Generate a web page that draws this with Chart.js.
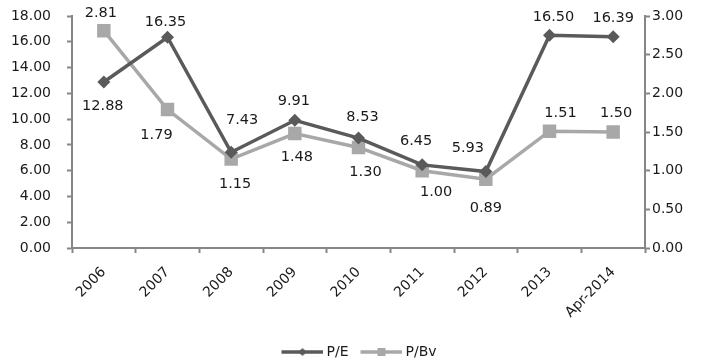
<!DOCTYPE html>
<html>
<head>
<meta charset="utf-8">
<script src="https://cdn.jsdelivr.net/npm/chart.js@4.4.1/dist/chart.umd.min.js"></script>
<style>
  html, body { margin: 0; padding: 0; background: #ffffff; }
  #wrap { width: 712px; height: 364px; position: relative; }
</style>
</head>
<body>
<div id="wrap"><canvas id="chart"></canvas></div>
<script>
// Valuation multiples by year
const categories = ['2006', '2007', '2008', '2009', '2010', '2011', '2012', '2013', 'Apr-2014'];
const peValues   = [12.88, 16.35, 7.43, 9.91, 8.53, 6.45, 5.93, 16.50, 16.39];
const pbvValues  = [2.81, 1.79, 1.15, 1.48, 1.30, 1.00, 0.89, 1.51, 1.50];
const leftTicks  = [0, 2, 4, 6, 8, 10, 12, 14, 16, 18];
const rightTicks = [0, 0.5, 1, 1.5, 2, 2.5, 3];

// Value-label nudges [dx, dy] in pixels from each point
const peLabelOffsets  = [[-1, 24], [-2, -15], [11, -32], [-1, -19], [4, -21], [-6, -24], [-18, -23], [4, -18], [0, -19]];
const pbvLabelOffsets = [[-3, -17], [-11, 26], [4, 25], [2, 24], [7, 25], [14, 22], [0, 29], [11, -18], [3, -19]];

const FONT = "'DejaVu Sans', Verdana, sans-serif";
const PE_COLOR = '#5a5a5a';
const PBV_COLOR = '#a8a8a8';
const AXIS_COLOR = '#868686';
const TEXT_COLOR = '#1a1a1a';

// Legend swatch: a short line with the series marker in its middle
function legendIcon(color, shape) {
  const c = document.createElement('canvas');
  c.width = 52; c.height = 14;
  const g = c.getContext('2d');
  g.strokeStyle = color; g.lineWidth = 3.5;
  g.beginPath(); g.moveTo(10, 7); g.lineTo(52, 7); g.stroke();
  g.fillStyle = color;
  g.beginPath();
  if (shape === 'diamond') {
    g.moveTo(31, 3); g.lineTo(35, 7); g.lineTo(31, 11); g.lineTo(27, 7);
  } else {
    g.rect(27, 3, 8, 8);
  }
  g.closePath(); g.fill();
  return c;
}

const valueLabels = {
  id: 'valueLabels',
  afterDatasetsDraw(chart) {
    const ctx = chart.ctx;
    ctx.save();
    ctx.font = '14.5px ' + FONT;
    ctx.fillStyle = TEXT_COLOR;
    ctx.textAlign = 'center';
    ctx.textBaseline = 'middle';
    chart.data.datasets.forEach((ds, di) => {
      const meta = chart.getDatasetMeta(di);
      meta.data.forEach((pt, i) => {
        const [dx, dy] = ds.labelOffsets[i];
        ctx.fillText(ds.data[i].toFixed(2), pt.x + dx, pt.y + dy);
      });
    });
    ctx.restore();
  }
};

const axisTicks = (padding) => ({
  color: TEXT_COLOR,
  font: { family: FONT, size: 14 },
  padding: padding,
  callback: v => Number(v).toFixed(2)
});

const axisGrid = {
  drawOnChartArea: false,
  tickLength: 5,
  tickColor: AXIS_COLOR,
  tickWidth: 2
};

// Fixed axis widths; the outer tick labels may overhang the plot edges
const fixWidth = (w) => (scale) => {
  scale.width = w;
  scale.paddingTop = 0;
  scale.paddingBottom = 0;
};

new Chart(document.getElementById('chart'), {
  type: 'line',
  data: {
    labels: categories,
    datasets: [
      {
        label: 'P/E',
        data: peValues,
        yAxisID: 'y',
        borderColor: PE_COLOR,
        backgroundColor: PE_COLOR,
        borderWidth: 3.5,
        pointStyle: 'rectRot',
        pointRadius: 6.5,
        pointHoverRadius: 6.5,
        pointBorderWidth: 0,
        tension: 0,
        labelOffsets: peLabelOffsets,
        legendIcon: legendIcon(PE_COLOR, 'diamond')
      },
      {
        label: 'P/Bv',
        data: pbvValues,
        yAxisID: 'y1',
        borderColor: PBV_COLOR,
        backgroundColor: PBV_COLOR,
        borderWidth: 3.5,
        pointStyle: 'rect',
        pointRadius: 9.5,
        pointHoverRadius: 9.5,
        pointBorderWidth: 0,
        tension: 0,
        labelOffsets: pbvLabelOffsets,
        legendIcon: legendIcon(PBV_COLOR, 'square')
      }
    ]
  },
  options: {
    responsive: true,
    maintainAspectRatio: false,
    animation: false,
    layout: { autoPadding: false, padding: { top: 16, left: 0, right: 0, bottom: -5 } },
    plugins: {
      tooltip: { enabled: false },
      legend: {
        position: 'bottom',
        labels: {
          usePointStyle: true,
          pointStyleWidth: 44,
          padding: 6,
          color: TEXT_COLOR,
          font: { family: FONT, size: 14 },
          generateLabels(chart) {
            return chart.data.datasets.map((ds, i) => ({
              text: ds.label,
              pointStyle: ds.legendIcon,
              fillStyle: ds.borderColor,
              strokeStyle: ds.borderColor,
              lineWidth: 0,
              hidden: false,
              datasetIndex: i,
              fontColor: TEXT_COLOR
            }));
          }
        }
      }
    },
    scales: {
      x: {
        offset: true,
        grid: Object.assign({ offset: true }, axisGrid),
        border: { color: AXIS_COLOR, width: 2 },
        ticks: {
          color: TEXT_COLOR,
          font: { family: FONT, size: 14 },
          minRotation: 45,
          maxRotation: 45,
          padding: 11,
          autoSkip: false
        },
        afterFit(scale) { scale.height = 91; }
      },
      y: {
        position: 'left',
        min: 0,
        max: 18,
        afterBuildTicks(scale) { scale.ticks = leftTicks.map(v => ({ value: v })); },
        grid: axisGrid,
        border: { color: AXIS_COLOR, width: 2 },
        ticks: axisTicks(16),
        afterFit: fixWidth(72)
      },
      y1: {
        position: 'right',
        min: 0,
        max: 3,
        afterBuildTicks(scale) { scale.ticks = rightTicks.map(v => ({ value: v })); },
        grid: axisGrid,
        border: { color: AXIS_COLOR, width: 2 },
        ticks: axisTicks(2),
        afterFit: fixWidth(67)
      }
    }
  },
  plugins: [valueLabels]
});
</script>
</body>
</html>
